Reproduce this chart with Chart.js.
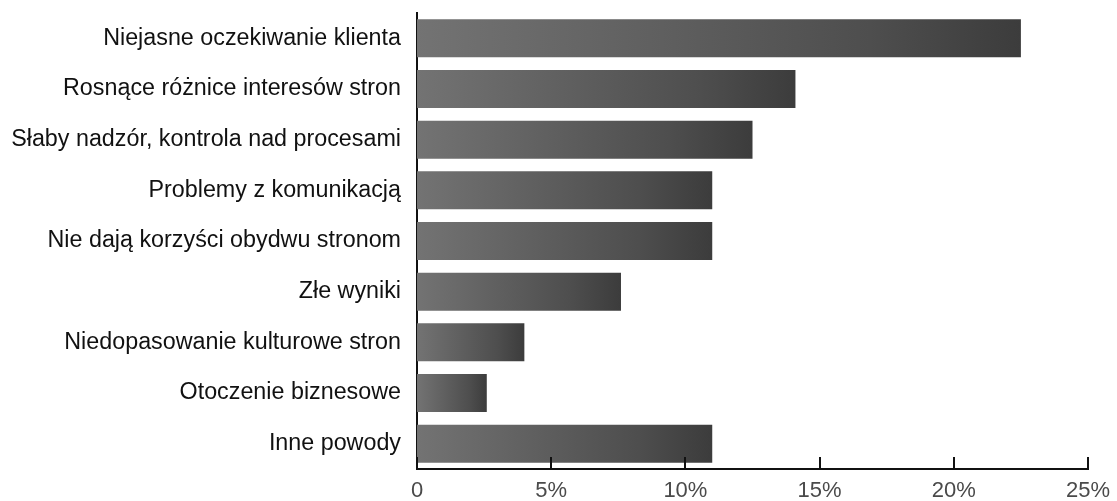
<!DOCTYPE html>
<html>
<head>
<meta charset="utf-8">
<script src="https://cdn.jsdelivr.net/npm/chart.js@4/dist/chart.umd.min.js"></script>
<style>
html,body{margin:0;padding:0;background:#fff;}
canvas{display:block;}
</style>
</head>
<body>
<canvas id="c" width="1117" height="501"></canvas>
<script>
const categories = [
  "Niejasne oczekiwanie klienta",
  "Rosnące różnice interesów stron",
  "Słaby nadzór, kontrola nad procesami",
  "Problemy z komunikacją",
  "Nie dają korzyści obydwu stronom",
  "Złe wyniki",
  "Niedopasowanie kulturowe stron",
  "Otoczenie biznesowe",
  "Inne powody"
];
const values = [22.5, 14.1, 12.5, 11.0, 11.0, 7.6, 4.0, 2.6, 11.0];
const tickValues = [0, 5, 10, 15, 20, 25];

const inwardTicks = {
  id: 'inwardTicks',
  afterDatasetsDraw(chart) {
    const x = chart.scales.x;
    const c = chart.ctx;
    const y0 = chart.chartArea.bottom;
    c.save();
    c.strokeStyle = '#111';
    c.lineWidth = 2;
    tickValues.forEach(v => {
      const px = Math.round(x.getPixelForValue(v));
      c.beginPath();
      c.moveTo(px, y0);
      c.lineTo(px, y0 - 12);
      c.stroke();
    });
    c.restore();
  }
};

new Chart(document.getElementById('c'), {
  type: 'bar',
  data: {
    labels: categories,
    datasets: [{
      data: values,
      backgroundColor: (ctx) => {
        const chart = ctx.chart;
        const xs = chart.scales.x;
        if (!xs || ctx.raw === undefined) return '#555';
        const x0 = xs.getPixelForValue(0);
        const x1 = xs.getPixelForValue(ctx.raw);
        if (!isFinite(x0) || !isFinite(x1) || x1 - x0 < 1) return '#555';
        const g = chart.ctx.createLinearGradient(x0, 0, x1, 0);
        g.addColorStop(0, '#737373');
        g.addColorStop(0.75, '#4e4e4e');
        g.addColorStop(1, '#3c3c3c');
        return g;
      },
      borderWidth: 0,
      barPercentage: 0.75,
      categoryPercentage: 1.0
    }]
  },
  options: {
    indexAxis: 'y',
    responsive: false,
    animation: false,
    layout: { padding: { top: 13, right: 29, bottom: 0, left: 0 } },
    plugins: { legend: { display: false }, tooltip: { enabled: false } },
    scales: {
      x: {
        min: 0, max: 25,
        afterBuildTicks: (s) => { s.ticks = tickValues.map(v => ({ value: v })); },
        afterFit: (s) => { s.height = 32; s.paddingLeft = 0; s.paddingRight = 0; },
        grid: { display: false, drawTicks: false },
        border: { display: true, color: '#111', width: 2 },
        ticks: {
          padding: 9,
          color: '#4a4a4a',
          font: { family: 'Liberation Sans, Arial, sans-serif', size: 22 },
          callback: (v) => v === 0 ? '0' : v + '%'
        }
      },
      y: {
        afterFit: (s) => { s.width = 417; s.paddingTop = 0; s.paddingBottom = 0; },
        grid: { display: false, drawTicks: false },
        border: { display: true, color: '#111', width: 2 },
        ticks: {
          padding: 16,
          color: '#111',
          font: { family: 'Liberation Sans, Arial, sans-serif', size: 23.3 }
        }
      }
    }
  },
  plugins: [inwardTicks]
});
</script>
</body>
</html>
